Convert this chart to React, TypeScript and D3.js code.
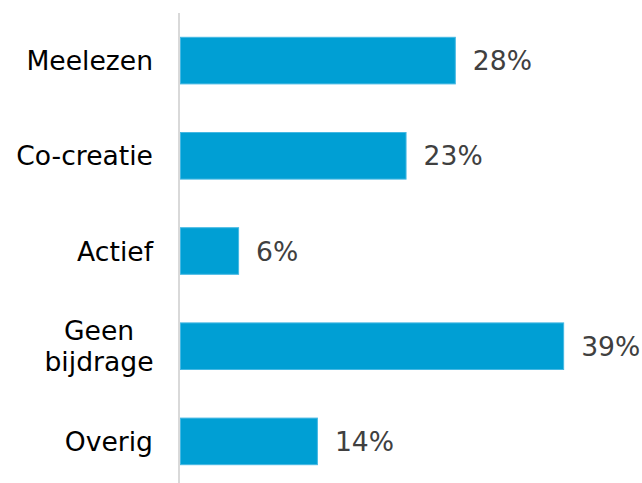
import * as d3 from 'd3';

const categories = ['Meelezen', 'Co-creatie', 'Actief', 'Geen bijdrage', 'Overig'];
const labelLines = [['Meelezen'], ['Co-creatie'], ['Actief'], ['Geen', 'bijdrage'], ['Overig']];
const values = [28, 23, 6, 39, 14];

const W = 642;
const H = 483;
const FONT = '"DejaVu Sans", Verdana, sans-serif';
const FS = 26.6;

export default function App() {
    const x = d3.scaleLinear().domain([0, 40]).range([180, 574]);
    const y = d3.scaleBand<string>().domain(categories).range([13, 489]).paddingInner(0.5).paddingOuter(0.25);
    const bw = y.bandwidth();

    return (
        <svg width={W} height={H} style={{ position: 'absolute', left: 0, top: 0, background: '#fff' }}>
            <line x1={179} x2={179} y1={13} y2={H} stroke="#d9d9d9" strokeWidth={2} />
            {categories.map((c, i) => {
                const y0 = y(c)!;
                const cy = y0 + bw / 2;
                const lines = labelLines[i];
                return (
                    <g key={c}>
                        <rect x={x(0) + 0.5} y={y0 + 0.5} width={x(values[i]) - x(0) - 1} height={bw - 1}
                            fill="#009fd4" stroke="#45b8e3" strokeWidth={1} />
                        <text x={x(values[i]) + 17} y={cy} dy="0.36em" fontFamily={FONT} fontSize={FS}
                            fill="#404040">{values[i]}%</text>
                        {lines.length === 1 ? (
                            <text x={153} y={cy} dy="0.36em" textAnchor="end" fontFamily={FONT} fontSize={FS}
                                fill="#000">{lines[0]}</text>
                        ) : (
                            <text textAnchor="middle" fontFamily={FONT} fontSize={FS} fill="#000">
                                {lines.map((l, j) => (
                                    <tspan key={l} x={99} y={cy + (j - (lines.length - 1) / 2) * 31} dy="0.36em">{l}</tspan>
                                ))}
                            </text>
                        )}
                    </g>
                );
            })}
        </svg>
    );
}
